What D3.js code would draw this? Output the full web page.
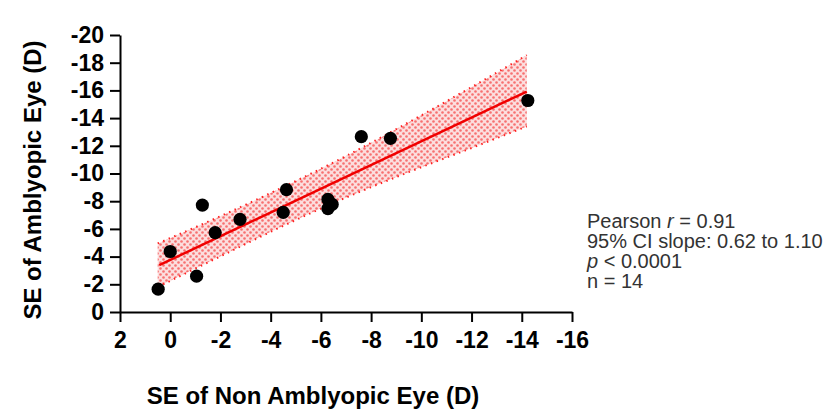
<!DOCTYPE html>
<html>
<head>
<meta charset="utf-8">
<script src="https://cdn.jsdelivr.net/npm/d3@7"></script>
<style>
  body { margin: 0; background: #fff; }
  svg { display: block; font-family: "Liberation Sans", Arial, sans-serif; }
  .axis path, .axis line { stroke: #000; stroke-width: 2; }
  .axis text { font-size: 23px; font-weight: bold; fill: #000; }
</style>
</head>
<body>
<div id="container"></div>
<script>
var width = 835,
    height = 410;

// spherical equivalent, non amblyopic eye (x) and amblyopic eye (y)
var seNonAmblyopic = [0.48, 0.0, -1.05, -1.28, -1.79, -2.78, -4.63, -4.50, -6.28, -6.45, -6.28, -7.61, -8.77, -14.24];
var seAmblyopic = [-1.65, -4.37, -2.59, -7.72, -5.73, -6.69, -8.83, -7.19, -8.13, -7.77, -7.46, -12.66, -12.54, -15.27];

// regression line end points
var fitX = [0.44, -14.2];
var fitY = [-3.38, -15.92];

// 95% confidence band
var bandX = [0.5, -2, -4.5, -7, -9.5, -12, -14.2];
var bandUpper = [-4.95, -6.92, -9.02, -11.26, -13.70, -16.24, -18.55];
var bandLower = [-1.80, -4.02, -6.22, -8.26, -10.10, -11.84, -13.40];

var xTicks = [2, 0, -2, -4, -6, -8, -10, -12, -14, -16];
var yTicks = [0, -2, -4, -6, -8, -10, -12, -14, -16, -18, -20];

var statsLines = [
    [{t: "Pearson "}, {t: "r", i: true}, {t: " = 0.91"}],
    [{t: "95% CI slope: 0.62 to 1.10"}],
    [{t: "p", i: true}, {t: " < 0.0001"}],
    [{t: "n = 14"}]
];

var svg = d3.select("#container")
    .append("svg")
    .attr("width", width)
    .attr("height", height);

var x = d3.scaleLinear().domain([2, -16]).range([120, 572]);
var y = d3.scaleLinear().domain([0, -20]).range([312, 35]);

// dotted pink pattern for the band
var defs = svg.append("defs");
var pat = defs.append("pattern")
    .attr("id", "dots")
    .attr("width", 6)
    .attr("height", 6)
    .attr("patternUnits", "userSpaceOnUse");
pat.append("rect").attr("width", 6).attr("height", 6).attr("fill", "#fcdede");
pat.append("circle").attr("cx", 1.5).attr("cy", 1.5).attr("r", 1.3).attr("fill", "#f77070");
pat.append("circle").attr("cx", 4.5).attr("cy", 4.5).attr("r", 1.3).attr("fill", "#f77070");

var area = d3.area()
    .x(function (d, i) { return x(bandX[i]); })
    .y0(function (d, i) { return y(bandLower[i]); })
    .y1(function (d, i) { return y(bandUpper[i]); })
    .curve(d3.curveMonotoneX);

svg.append("path")
    .datum(bandX)
    .attr("d", area)
    .attr("fill", "url(#dots)");

// dotted edges
[bandUpper, bandLower].forEach(function (edge) {
    svg.append("path")
        .datum(bandX)
        .attr("d", d3.line()
            .x(function (d, i) { return x(bandX[i]); })
            .y(function (d, i) { return y(edge[i]); })
            .curve(d3.curveMonotoneX))
        .attr("fill", "none")
        .attr("stroke", "#ff2020")
        .attr("stroke-width", 2)
        .attr("stroke-dasharray", "1.5 4.5");
});

svg.append("line")
    .attr("x1", x(fitX[0]))
    .attr("y1", y(fitY[0]))
    .attr("x2", x(fitX[1]))
    .attr("y2", y(fitY[1]))
    .attr("stroke", "#f00000")
    .attr("stroke-width", 2.5);

// axes
svg.append("g")
    .attr("class", "axis")
    .attr("transform", "translate(0," + y(0) + ")")
    .call(d3.axisBottom(x).tickValues(xTicks).tickSize(10).tickSizeOuter(0).tickPadding(10)
        .tickFormat(function (d) { return d3.format("d")(d).replace("−", "-"); }));

svg.append("g")
    .attr("class", "axis")
    .attr("transform", "translate(" + x(2) + ",0)")
    .call(d3.axisLeft(y).tickValues(yTicks).tickSize(10).tickSizeOuter(0).tickPadding(6)
        .tickFormat(function (d) { return d3.format("d")(d).replace("−", "-"); }));

// points
svg.append("g")
    .selectAll("circle")
    .data(seNonAmblyopic)
    .enter()
    .append("circle")
    .attr("cx", function (d) { return x(d); })
    .attr("cy", function (d, i) { return y(seAmblyopic[i]); })
    .attr("r", 6.6)
    .attr("fill", "#000");

// axis titles
svg.append("text")
    .attr("x", 313)
    .attr("y", 404)
    .attr("text-anchor", "middle")
    .style("font-size", "24px")
    .style("font-weight", "bold")
    .text("SE of Non Amblyopic Eye (D)");

svg.append("text")
    .attr("transform", "translate(41,180) rotate(-90)")
    .attr("text-anchor", "middle")
    .style("font-size", "24px")
    .style("font-weight", "bold")
    .text("SE of Amblyopic Eye (D)");

// stats text
var stats = svg.append("text")
    .style("font-size", "20px")
    .attr("fill", "#333");

statsLines.forEach(function (line, k) {
    line.forEach(function (part, j) {
        var ts = stats.append("tspan").text(part.t);
        if (j === 0) ts.attr("x", 587).attr("y", 228 + k * 20);
        if (part.i) ts.style("font-style", "italic");
    });
});
</script>
</body>
</html>
